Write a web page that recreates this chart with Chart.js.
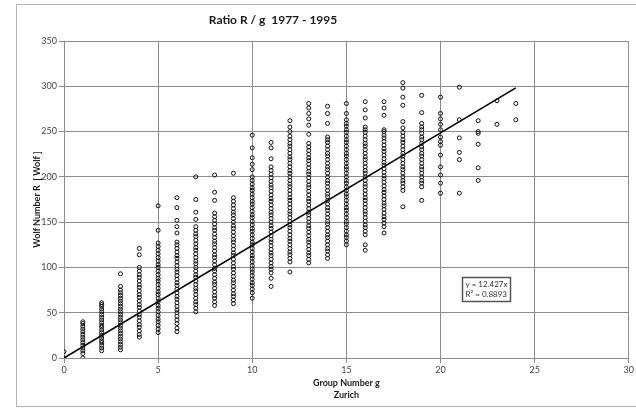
<!DOCTYPE html>
<html>
<head>
<meta charset="utf-8">
<script src="https://cdn.jsdelivr.net/npm/chart.js@4.4.1/dist/chart.umd.min.js"></script>
<style>
  html, body { margin: 0; padding: 0; background: #fff; }
  canvas { display: block; }
</style>
</head>
<body>
<canvas id="ratio-chart" width="636" height="410"></canvas>
<script>
// Wolf number R observed for each Zurich group count g (1977 - 1995)
const r_g0 = [0, 7];
const r_g1 = [0, 5, 8, 11, 14, 17, 20, 23, 26, 29, 32, 35, 38, 40];
const r_g2 = [8, 11, 14, 17, 19, 22, 25, 28, 31, 34, 36, 39, 42, 45, 48, 51, 54, 57, 59, 61];
const r_g3 = [9, 12, 15, 18, 21, 24, 27, 30, 33, 36, 39, 42, 45, 48, 51, 54, 57, 60, 63, 66, 69, 72, 75, 79, 93];
const r_g4 = [23, 26, 30, 34, 37, 41, 45, 48, 52, 56, 59, 63, 67, 70, 74, 78, 81, 85, 89, 92, 96, 100, 114, 121];
const r_g5 = [28, 32, 36, 40, 43, 47, 51, 55, 58, 62, 66, 70, 73, 77, 81, 85, 88, 92, 96, 100, 103, 107, 111, 115, 119, 123, 127, 141, 168];
const r_g6 = [29, 33, 38, 42, 46, 50, 53, 57, 61, 65, 68, 72, 76, 80, 83, 87, 91, 95, 98, 102, 106, 110, 113, 117, 121, 125, 128, 138, 145, 152, 166, 177];
const r_g7 = [51, 55, 59, 62, 66, 70, 74, 77, 81, 85, 89, 92, 96, 100, 104, 107, 111, 115, 119, 122, 126, 130, 134, 137, 141, 145, 153, 161, 175, 200];
const r_g8 = [58, 62, 66, 69, 73, 77, 81, 84, 88, 92, 96, 99, 103, 107, 111, 114, 118, 122, 126, 129, 133, 137, 141, 144, 148, 152, 156, 160, 174, 183, 202];
const r_g9 = [60, 64, 68, 71, 75, 79, 83, 86, 90, 94, 98, 101, 105, 109, 113, 116, 120, 124, 128, 131, 135, 139, 143, 146, 150, 154, 158, 161, 165, 169, 173, 177, 204];
const r_g10 = [66, 72, 76, 80, 83, 87, 91, 95, 98, 102, 106, 110, 113, 117, 121, 125, 128, 132, 136, 140, 143, 147, 151, 155, 158, 162, 166, 170, 173, 177, 181, 185, 188, 192, 196, 200, 208, 214, 221, 232, 246];
const r_g11 = [79, 88, 94, 98, 101, 105, 109, 113, 116, 120, 124, 128, 131, 135, 139, 143, 146, 150, 154, 158, 161, 165, 169, 173, 176, 180, 184, 188, 191, 195, 199, 203, 207, 211, 220, 232, 238];
const r_g12 = [95, 106, 110, 114, 117, 121, 125, 129, 132, 136, 140, 144, 147, 151, 155, 159, 162, 166, 170, 174, 177, 181, 185, 189, 192, 196, 200, 204, 207, 211, 215, 219, 222, 226, 230, 234, 237, 241, 245, 250, 255, 262];
const r_g13 = [105, 109, 113, 116, 120, 124, 128, 131, 135, 139, 143, 146, 150, 154, 158, 161, 165, 169, 173, 176, 180, 184, 188, 191, 195, 199, 203, 206, 210, 214, 218, 221, 225, 229, 233, 237, 247, 257, 264, 270, 276, 281];
const r_g14 = [110, 114, 118, 121, 125, 129, 133, 136, 140, 144, 148, 151, 155, 159, 163, 166, 170, 174, 178, 181, 185, 189, 193, 196, 200, 204, 208, 211, 215, 219, 223, 226, 230, 234, 238, 241, 244, 259, 270, 278];
const r_g15 = [125, 129, 133, 136, 140, 144, 148, 151, 155, 159, 163, 166, 170, 174, 178, 181, 185, 189, 193, 196, 200, 204, 208, 211, 215, 219, 223, 226, 230, 234, 238, 241, 245, 249, 252, 256, 259, 263, 270, 281];
const r_g16 = [119, 125, 136, 140, 144, 147, 151, 155, 159, 162, 166, 170, 174, 177, 181, 185, 189, 192, 196, 200, 204, 207, 211, 215, 219, 222, 226, 230, 234, 237, 241, 245, 249, 252, 255, 265, 274, 283];
const r_g17 = [138, 145, 149, 153, 156, 160, 164, 168, 171, 175, 179, 183, 186, 190, 194, 198, 201, 205, 209, 213, 216, 220, 224, 228, 231, 235, 239, 243, 246, 250, 252, 268, 276, 283];
const r_g18 = [167, 185, 189, 193, 196, 200, 204, 208, 211, 215, 219, 223, 226, 230, 234, 238, 241, 245, 249, 254, 261, 279, 288, 298, 304];
const r_g19 = [174, 189, 193, 196, 200, 204, 208, 211, 215, 219, 223, 226, 230, 233, 237, 241, 244, 248, 252, 255, 259, 271, 290];
const r_g20 = [182, 193, 202, 211, 224, 235, 239, 244, 252, 258, 264, 270, 288];
const r_g21 = [182, 219, 227, 243, 263, 299];
const r_g22 = [196, 210, 236, 248, 250, 262];
const r_g23 = [258, 284];
const r_g24 = [263, 281];

const groupColumns = [
  r_g0, r_g1, r_g2, r_g3, r_g4, r_g5, r_g6, r_g7, r_g8, r_g9, r_g10, r_g11, r_g12,
  r_g13, r_g14, r_g15, r_g16, r_g17, r_g18, r_g19, r_g20, r_g21, r_g22, r_g23, r_g24
];

// linear fit through the origin
const TREND_SLOPE = 12.427;
const TREND_R2 = 0.8893;
const trendRange = [0, 24];

const xTicks = [0, 5, 10, 15, 20, 25, 30];
const yTicks = [0, 50, 100, 150, 200, 250, 300, 350];

const FONT = 'Lato, "Open Sans", "Liberation Sans", sans-serif';
const GRID = '#8c8c8c';

const scatterPoints = [];
groupColumns.forEach((values, g) => {
  values.forEach((r) => scatterPoints.push({ x: g, y: r }));
});

const trendPoints = trendRange.map((g) => ({ x: g, y: TREND_SLOPE * g }));

const labelsPlugin = {
  id: 'chartText',
  beforeDraw(chart) {
    const { ctx, width, height } = chart;
    ctx.save();
    ctx.fillStyle = '#fff';
    ctx.fillRect(0, 0, width, height);
    ctx.strokeStyle = '#b4b4b4';
    ctx.lineWidth = 1;
    ctx.strokeRect(16.5, 4.5, width + 10, 402);
    ctx.restore();
  },
  afterDraw(chart) {
    const { ctx, scales } = chart;
    const area = chart.chartArea;
    ctx.save();
    ctx.fillStyle = '#1a1a1a';
    ctx.textAlign = 'center';
    ctx.textBaseline = 'middle';

    ctx.font = `bold 12px ${FONT}`;
    ctx.fillText('Ratio R / g  1977 - 1995', 273, 20);

    ctx.font = `bold 9px ${FONT}`;
    const cx = (area.left + area.right) / 2;
    ctx.fillText('Group Number g', cx, 383);
    ctx.fillText('Zurich', cx, 395);

    ctx.save();
    ctx.translate(37, (area.top + area.bottom) / 2);
    ctx.rotate(-Math.PI / 2);
    ctx.fillText('Wolf Number R  [ Wolf ]', 0, 0);
    ctx.restore();

    // equation box for the fitted line
    const bx = Math.round(scales.x.getPixelForValue(21.15)) + 0.5;
    const by = Math.round(scales.y.getPixelForValue(89)) + 0.5;
    const bw = 48;
    const bh = 24;
    ctx.fillStyle = '#fff';
    ctx.fillRect(bx, by, bw, bh);
    ctx.strokeStyle = '#555';
    ctx.lineWidth = 1.5;
    ctx.strokeRect(bx, by, bw, bh);
    ctx.fillStyle = '#333';
    ctx.font = `8px ${FONT}`;
    ctx.textAlign = 'left';
    ctx.fillText(`y = ${TREND_SLOPE}x`, bx + 3, by + 7);
    ctx.fillText(`R² = ${TREND_R2}`, bx + 3, by + 17);
    ctx.restore();
  }
};

new Chart(document.getElementById('ratio-chart'), {
  type: 'scatter',
  data: {
    datasets: [
      {
        label: 'R',
        data: scatterPoints,
        pointStyle: 'circle',
        pointRadius: 2,
        borderWidth: 1,
        borderColor: '#111',
        backgroundColor: 'rgba(255,255,255,0)'
      },
      {
        label: 'trend',
        type: 'line',
        data: trendPoints,
        borderColor: '#000',
        borderWidth: 1.6,
        pointRadius: 0,
        fill: false
      }
    ]
  },
  options: {
    responsive: false,
    devicePixelRatio: 1,
    animation: false,
    layout: { padding: { top: 41, right: 2, bottom: 0, left: 0 } },
    plugins: {
      legend: { display: false },
      tooltip: { enabled: false }
    },
    scales: {
      x: {
        type: 'linear',
        min: 0,
        max: 30,
        afterBuildTicks: (scale) => { scale.ticks = xTicks.map((v) => ({ value: v })); },
        afterFit: (scale) => { scale.height = 52; },
        ticks: { color: '#444', font: { family: FONT, size: 9 }, padding: 2, maxRotation: 0 },
        grid: { color: GRID, lineWidth: 1, tickLength: 5 },
        border: { color: GRID }
      },
      y: {
        min: 0,
        max: 350,
        afterBuildTicks: (scale) => { scale.ticks = yTicks.map((v) => ({ value: v })); },
        afterFit: (scale) => { scale.width = 64; },
        ticks: { color: '#444', font: { family: FONT, size: 9 }, padding: 2 },
        grid: { color: GRID, lineWidth: 1, tickLength: 5 },
        border: { color: GRID }
      }
    }
  },
  plugins: [labelsPlugin]
});
</script>
</body>
</html>
